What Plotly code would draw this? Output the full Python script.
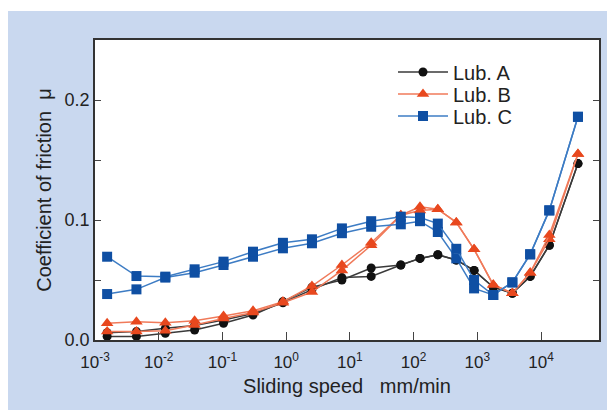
import plotly.graph_objects as go

# Sliding speed (mm/min)
speed = [0.00155, 0.00447, 0.0127, 0.0366, 0.104, 0.302, 0.89, 2.54, 7.5, 21.6,
         63, 126, 240, 468, 890, 1780, 3550, 6760, 13500, 38000]

lubA_1 = [0.003, 0.003, 0.0056, 0.0083, 0.014, 0.0208, 0.032, 0.044, 0.050, 0.060,
          0.0625, 0.068, 0.071, 0.0667, 0.058, 0.044, 0.039, 0.053, 0.079, 0.147]
lubA_2 = [0.006, 0.007, 0.0097, 0.012, 0.0167, 0.022, 0.031, 0.042, 0.052, 0.053,
          0.0625, 0.068, 0.071, 0.0667, 0.058, 0.044, 0.039, 0.053, 0.079, 0.147]

lubB_1 = [0.014, 0.0153, 0.0144, 0.016, 0.020, 0.0244, 0.032, 0.045, 0.0625, 0.081,
          0.104, 0.111, 0.109, 0.098, 0.0756, 0.046, 0.039, 0.056, 0.0875, 0.155]
lubB_2 = [0.007, 0.007, 0.0078, 0.0125, 0.018, 0.023, 0.031, 0.040, 0.058, 0.079,
          0.104, 0.108, 0.109, 0.098, 0.0756, 0.046, 0.039, 0.056, 0.084, 0.155]

lubC_1 = [0.0694, 0.0533, 0.0528, 0.0589, 0.0653, 0.0736, 0.081, 0.0839, 0.093, 0.099,
          0.1028, 0.102, 0.097, 0.076, 0.050, 0.0375, 0.048, 0.0714, 0.108, 0.186]
lubC_2 = [0.0383, 0.0422, 0.052, 0.0561, 0.0625, 0.0694, 0.0764, 0.0806, 0.089, 0.0944,
          0.0964, 0.099, 0.090, 0.068, 0.043, 0.0375, 0.048, 0.0714, 0.108, 0.186]

x_tickvals = [1e-3, 1e-2, 1e-1, 1e0, 1e1, 1e2, 1e3, 1e4]
x_ticktext = ["10<sup>-3</sup>", "10<sup>-2</sup>", "10<sup>-1</sup>", "10<sup>0</sup>",
              "10<sup>1</sup>", "10<sup>2</sup>", "10<sup>3</sup>", "10<sup>4</sup>"]
y_tickvals = [0.0, 0.05, 0.1, 0.15, 0.2]
y_ticktext = ["0.0", "", "0.1", "", "0.2"]

FONT = "Liberation Sans, Arial, sans-serif"

W, H = 615, 417
L, R, T, B = 95, 16, 40, 77
pw, ph = W - L - R, H - T - B


def px2x(px):
    return (px - L) / pw


def py2y(py):
    return (H - B - py) / ph


series = [
    ("Lub. A", lubA_1, lubA_2, "#3a3a3a", "#111111", "circle", 9, "legend", 72),
    ("Lub. B", lubB_1, lubB_2, "#f07a5a", "#e8481e", "triangle-up", 11, "legend2", 94),
    ("Lub. C", lubC_1, lubC_2, "#3d7cc4", "#0f4fa3", "square", 10, "legend3", 116),
]

fig = go.Figure()
legends = {}
for name, y1, y2, lc, mc, sym, ms, lg, ly in series:
    for i, yy in enumerate([y2, y1]):
        fig.add_trace(go.Scatter(
            x=speed, y=yy, mode="lines+markers", name=name,
            legend=lg, showlegend=(i == 1),
            line=dict(color=lc, width=1.5),
            marker=dict(color=mc, symbol=sym, size=ms, line=dict(width=0)),
        ))
    legends[lg] = dict(x=px2x(393), y=py2y(ly), xanchor="left", yanchor="middle",
                       bgcolor="rgba(0,0,0,0)", font=dict(size=20, color="#222222"),
                       itemwidth=50, borderwidth=0)

fig.add_shape(type="rect", xref="paper", yref="paper",
              x0=px2x(8), x1=px2x(607), y0=py2y(410), y1=py2y(11),
              fillcolor="#c9d8ef", line=dict(width=0), layer="below")
fig.add_shape(type="rect", xref="paper", yref="paper",
              x0=0, x1=1, y0=0, y1=1,
              fillcolor="white", line=dict(width=0), layer="below")

fig.update_layout(
    width=W, height=H,
    margin=dict(l=L, r=R, t=T, b=B),
    paper_bgcolor="white", plot_bgcolor="white",
    font=dict(family=FONT, size=16, color="#222222"),
    showlegend=True,
    xaxis=dict(type="log", range=[-3, 4.91], tickvals=x_tickvals, ticktext=x_ticktext,
               ticks="inside", ticklen=8, tickwidth=1.3, tickcolor="#444",
               showline=True, linecolor="#333", linewidth=1.5, mirror=True,
               showgrid=False, zeroline=False, ticklabelstandoff=6,
               tickfont=dict(size=17),
               title=dict(text="Sliding speed   mm/min", font=dict(size=20), standoff=8)),
    yaxis=dict(range=[0, 0.25], tickvals=y_tickvals, ticktext=y_ticktext,
               ticks="inside", ticklen=6, tickwidth=1.3, tickcolor="#444",
               showline=True, linecolor="#333", linewidth=1.5, mirror="ticks",
               showgrid=False, zeroline=False,
               tickfont=dict(size=18),
               title=dict(text="Coefficient of friction  \u03bc", font=dict(size=20), standoff=8)),
    **legends,
)

fig.write_html("out.html")
